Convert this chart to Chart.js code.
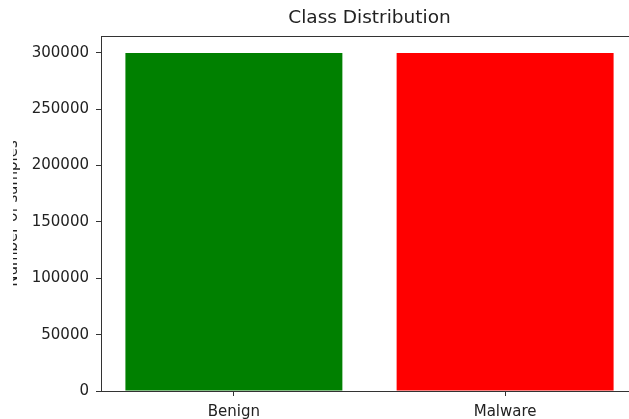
<!DOCTYPE html>
<html lang="en">

<head>
    <meta charset="UTF-8">
    <title>Class Distribution</title>
    <script src="https://cdn.jsdelivr.net/npm/chart.js@4/dist/chart.umd.min.js"></script>
    <style>
        html, body { margin: 0; padding: 0; background: #fff; overflow: hidden; }
        #wrap { position: absolute; left: 13px; top: 0; width: 616px; height: 419px; overflow: hidden; }
        #chart { position: absolute; left: -20px; top: 0; }
    </style>
</head>

<body>
    <div id="wrap"><canvas id="chart" width="660" height="419"></canvas></div>
    <script>
        // data
        const categories = ['Benign', 'Malware'];
        const counts = [300000, 300000];
        const barColors = ['#008000', '#ff0000'];
        const yTicks = [0, 50000, 100000, 150000, 200000, 250000, 300000];

        const font = 'DejaVu Sans';
        const ink = '#222';

        // top/right spines of the axes box
        const frame = {
            id: 'frame',
            afterDraw(chart) {
                const a = chart.chartArea, ctx = chart.ctx;
                ctx.save();
                ctx.strokeStyle = '#333';
                ctx.lineWidth = 1;
                ctx.strokeRect(Math.round(a.left) + 0.5, Math.round(a.top) + 0.5,
                    Math.round(a.right - a.left), Math.round(a.bottom - a.top));
                ctx.restore();
            }
        };

        const canvas = document.getElementById("chart");
        let chart = new Chart(canvas, {
            type: 'bar',
            data: {
                datasets: [{
                    data: categories.map((c, i) => ({ x: i, y: counts[i] })),
                    backgroundColor: barColors,
                    borderWidth: 0,
                    categoryPercentage: 1,
                    barPercentage: 0.8
                }]
            },
            options: {
                responsive: false,
                animation: false,
                layout: { padding: { left: 0, right: 15, top: 0, bottom: 0 } },
                plugins: {
                    legend: { display: false },
                    tooltip: { enabled: false },
                    title: {
                        display: true,
                        text: 'Class Distribution',
                        fullSize: false,
                        color: ink,
                        font: { family: font, size: 18.5, weight: 'normal' },
                        padding: { top: 7, bottom: 6.8 }
                    }
                },
                scales: {
                    x: {
                        type: 'linear',
                        min: -0.49,
                        max: 1.49,
                        offset: false,
                        afterBuildTicks: axis => { axis.ticks = categories.map((c, i) => ({ value: i })); },
                        afterFit: axis => { axis.height = 28; },
                        ticks: {
                            callback: v => categories[v],
                            color: ink,
                            font: { family: font, size: 15 },
                            padding: 7,
                            maxRotation: 0
                        },
                        grid: { offset: false, drawOnChartArea: false, drawTicks: true, tickLength: 5, color: '#333' },
                        border: { display: true, color: '#333', width: 1 }
                    },
                    y: {
                        min: 0,
                        max: 315000,
                        afterBuildTicks: axis => { axis.ticks = yTicks.map(v => ({ value: v })); },
                        afterFit: axis => { axis.width = 108; },
                        ticks: {
                            callback: v => String(v),
                            color: ink,
                            font: { family: font, size: 15 },
                            padding: 7
                        },
                        grid: { drawOnChartArea: false, drawTicks: true, tickLength: 5, color: '#333' },
                        border: { display: true, color: '#333', width: 1 },
                        title: {
                            display: true,
                            text: 'Number of samples',
                            color: ink,
                            font: { family: font, size: 15 },
                            padding: { top: 11, bottom: 0 }
                        }
                    }
                }
            },
            plugins: [frame]
        });
    </script>
</body>

</html>
